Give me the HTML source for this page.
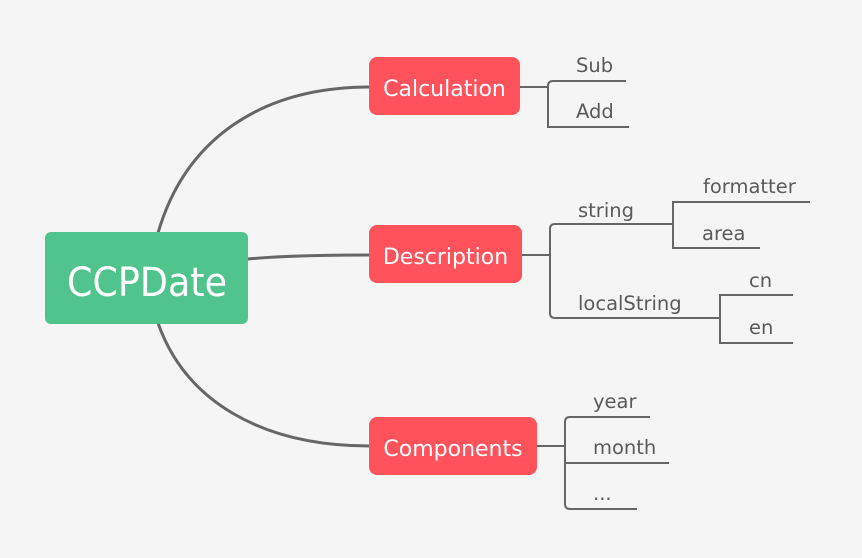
<!DOCTYPE html>
<html><head><meta charset="utf-8"><style>
html,body{margin:0;padding:0;background:#f5f5f5;}
svg{display:block}
text{font-family:"DejaVu Sans","Liberation Sans",sans-serif;}
.l{fill:#5a5a5a;font-size:19.5px}
.n{fill:#fff;font-size:22px}
</style></head><body>
<svg width="862" height="558" viewBox="0 0 862 558">
<rect width="862" height="558" fill="#f5f5f5"/>
<g fill="none" stroke="#666" stroke-width="3">
<path d="M158,233 C185,140 260,87 370,87"/>
<path d="M248,259 C280,256 320,255 370,255"/>
<path d="M158,323 C185,400 260,446 370,446"/>
</g>
<g fill="none" stroke="#666" stroke-width="2">
<path d="M520,87 H548"/>
<path d="M626,81 H553 Q548,81 548,86 V127 H629"/>
<path d="M522,255 H550"/>
<path d="M673,224 H555 Q550,224 550,229 V313 Q550,318 555,318 H720"/>
<path d="M810,202 H673 V248 H760"/>
<path d="M793,295 H720 V343 H793"/>
<path d="M537,446 H565"/>
<path d="M650,417 H570 Q565,417 565,422 V504 Q565,509 570,509 H637"/>
<path d="M565,463 H669"/>
</g>
<rect x="45" y="232" width="203" height="92" rx="6" fill="#50c48c"/>
<text x="147" y="296" text-anchor="middle" fill="#fff" font-size="40" font-family="Liberation Sans" textLength="160" lengthAdjust="spacingAndGlyphs">CCPDate</text>
<rect x="369" y="57" width="151" height="58" rx="8" fill="#ff525b"/>
<text class="n" x="444.5" y="96" text-anchor="middle">Calculation</text>
<rect x="369" y="225" width="153" height="58" rx="8" fill="#ff525b"/>
<text class="n" x="445.5" y="264" text-anchor="middle">Description</text>
<rect x="369" y="417" width="168" height="58" rx="8" fill="#ff525b"/>
<text class="n" x="453" y="456" text-anchor="middle">Components</text>
<text class="l" x="576" y="72">Sub</text>
<text class="l" x="576" y="118">Add</text>
<text class="l" x="578" y="217">string</text>
<text class="l" x="703" y="193">formatter</text>
<text class="l" x="702" y="240">area</text>
<text class="l" x="578" y="310">localString</text>
<text class="l" x="749" y="287">cn</text>
<text class="l" x="749" y="334">en</text>
<text class="l" x="593" y="408">year</text>
<text class="l" x="593" y="454">month</text>
<text class="l" x="593" y="500">...</text>
</svg>
</body></html>
